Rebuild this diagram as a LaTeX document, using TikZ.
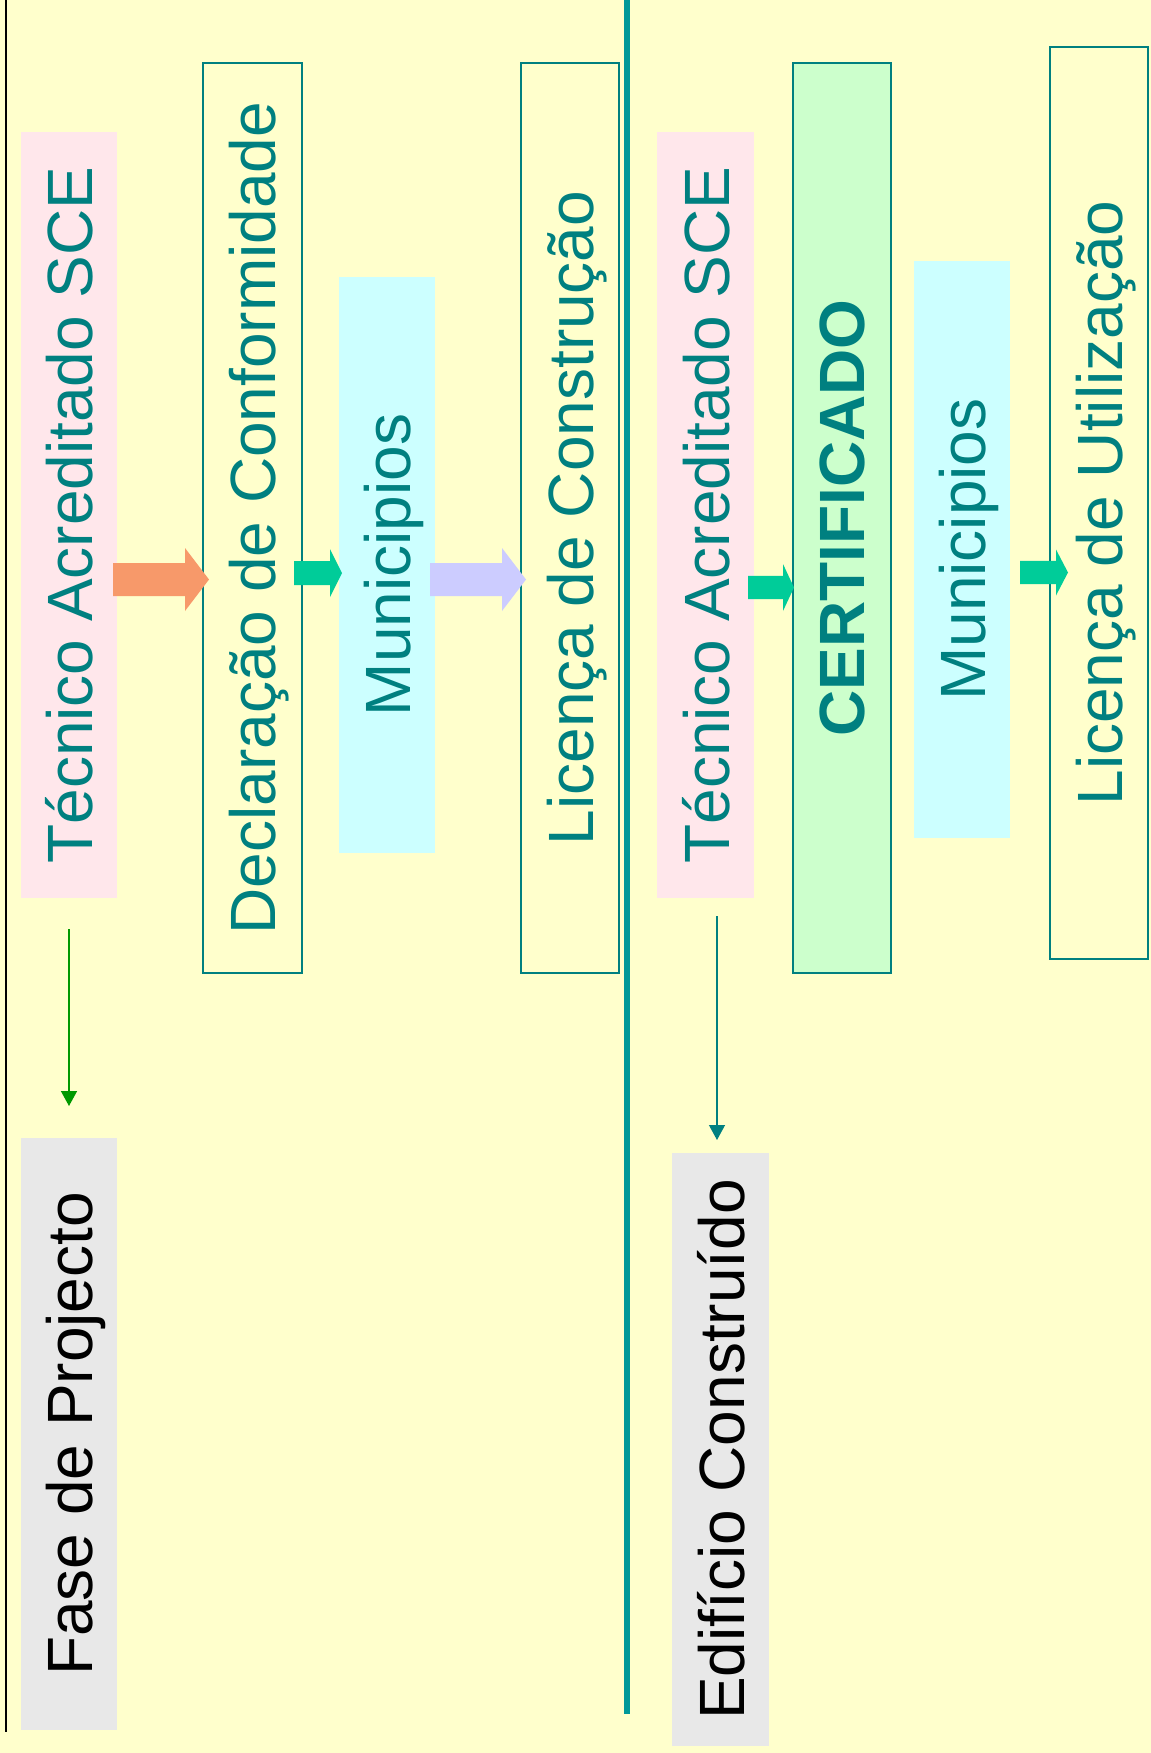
\documentclass[tikz,border=0pt]{standalone}
\usepackage{fontspec}
\setmainfont{Liberation Sans}
\usetikzlibrary{arrows.meta,calc}
\definecolor{bg}{HTML}{FFFFCC}
\definecolor{tealtxt}{HTML}{008080}
\definecolor{tealline}{HTML}{009999}
\definecolor{pinkfill}{HTML}{FFE7EB}
\definecolor{cyanfill}{HTML}{CCFFFF}
\definecolor{greenfill}{HTML}{CCFFCC}
\definecolor{grayfill}{HTML}{E8E8E8}
\definecolor{salmon}{HTML}{F7996A}
\definecolor{mint}{HTML}{00CC99}
\definecolor{lavender}{HTML}{CCCCFF}
\definecolor{darkgreen}{HTML}{009900}
\newcommand\barrow[7]{\fill[#1] (#2,{#5-#6}) -- (#4,{#5-#6}) -- (#4,{#5-#7}) -- (#3,#5) -- (#4,{#5+#7}) -- (#4,{#5+#6}) -- (#2,{#5+#6}) -- cycle;}
\newcommand\vtxt[1]{\rotatebox{90}{\raisebox{0pt}[\height][0pt]{#1}}}
\tikzset{
  base/.style={inner sep=0pt, outer sep=0pt, font=\fontsize{32}{38}\selectfont, text=tealtxt},
  pinkbox/.style={base, fill=pinkfill},
  cyanbox/.style={base, fill=cyanfill},
  framebox/.style={base, draw=tealtxt, line width=0.6pt},
  certbox/.style={base, draw=tealtxt, line width=0.6pt, fill=greenfill, font=\fontsize{32}{38}\selectfont\bfseries},
  graybox/.style={base, fill=grayfill, text=black},
  thinarrow/.style={line width=0.75pt, -{Triangle[length=7.5pt,width=8pt]}}
}
\begin{document}
\begin{tikzpicture}[x=0.5pt,y=-0.5pt]
\fill[bg] (0,0) rectangle (1151,1753);
\useasboundingbox (0,0) rectangle (1151,1753);
% separators
\coordinate (l1a) at (6,0);
\coordinate (l1b) at (6,1732);
\draw[black, line width=0.8pt] (l1a) -- (l1b);
\coordinate (l2a) at (627,0);
\coordinate (l2b) at (627,1714);
\draw[tealline, line width=3pt] (l2a) -- (l2b);
% left column
\node[pinkbox, minimum width=48pt, minimum height=383pt] (tec1) at (69,515) {\vtxt{Técnico Acreditado SCE}};
\node[framebox, minimum width=49.5pt, minimum height=455pt] (decl) at (252.5,518) {\vtxt{Declaração de Conformidade}};
\node[cyanbox, minimum width=48pt, minimum height=288pt] (mun1) at (387,565) {\vtxt{Municipios}};
\node[framebox, minimum width=49pt, minimum height=455pt] (licc) at (570,518) {\vtxt{Licença de Construção}};
\node[graybox, minimum width=48pt, minimum height=296pt] (fase) at (69,1434) {\vtxt{Fase de Projecto}};
% right column
\node[pinkbox, minimum width=48.5pt, minimum height=383pt] (tec2) at (705.5,515) {\vtxt{Técnico Acreditado SCE}};
\node[certbox, minimum width=49pt, minimum height=455pt] (cert) at (842,518) {\vtxt{CERTIFICADO}};
\node[cyanbox, minimum width=48pt, minimum height=288.5pt] (mun2) at (962,549.5) {\vtxt{Municipios}};
\node[framebox, minimum width=49pt, minimum height=456pt] (licu) at (1099,503) {\vtxt{Licença de Utilização}};
\node[graybox, minimum width=48.5pt, minimum height=296.5pt] (edif) at (720.5,1449.5) {\vtxt{Edifício Construído}};
% block arrows
\barrow{salmon}{113}{209}{185}{579.5}{16.5}{31.5}
\barrow{mint}{294}{342}{330}{573}{12}{24}
\barrow{lavender}{430}{526}{502}{579.5}{16.5}{31.5}
\barrow{mint}{748}{794}{783}{587.5}{11.7}{23.5}
\barrow{mint}{1020}{1068}{1056}{572.5}{11.7}{23}
% thin arrows
\draw[thinarrow, darkgreen, shorten <=15.5pt, shorten >=16pt] (tec1.south) -- (fase.north);
\coordinate (t2a) at (717,916);
\draw[thinarrow, tealtxt, line width=0.6pt] (t2a) -- ($(t2a |- edif.north)+(0,-13)$);
\end{tikzpicture}
\end{document}
